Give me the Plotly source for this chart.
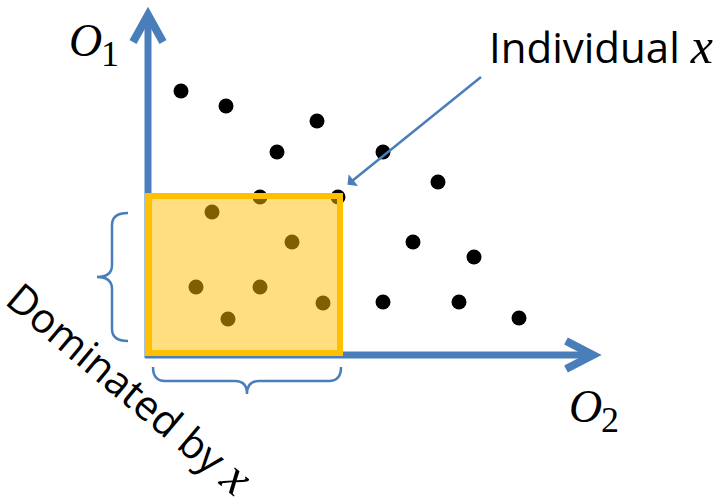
import plotly.graph_objects as go

# Data (pixel-space positions of the individuals on the O2 / O1 plane)
outer_x = [181, 226, 317, 277, 383, 438, 260, 338, 413, 474, 383, 459, 519]
outer_y = [91, 106, 121, 152, 152, 182, 197, 197, 242, 257, 302, 302, 318]
dom_x = [212, 292, 196, 260, 323, 228]
dom_y = [212, 242, 287, 287, 303, 319]

BLUE = "#4A7EBB"
ORANGE = "#FFC000"
SERIF = "Liberation Serif"
SANS = "Open Sans"

fig = go.Figure()
fig.add_trace(go.Scatter(x=outer_x + dom_x, y=outer_y + dom_y, mode="markers",
                         marker=dict(color="black", size=15, line=dict(width=0)),
                         hoverinfo="skip", showlegend=False))

shapes = []
# axes
shapes.append(dict(type="line", x0=148, y0=358, x1=148, y1=16, line=dict(color=BLUE, width=7), layer="below"))
shapes.append(dict(type="path", path="M133,42 L148,15 L163,42", line=dict(color=BLUE, width=8), layer="below"))
shapes.append(dict(type="line", x0=145, y0=355, x1=592, y1=355, line=dict(color=BLUE, width=7), layer="below"))
shapes.append(dict(type="path", path="M566,341 L593,355 L566,369", line=dict(color=BLUE, width=8), layer="below"))
# braces
shapes.append(dict(type="path",
                   path="M128,213 Q112,213 112,225 L112,265 Q112,277 97,277 Q112,277 112,289 L112,329 Q112,341 128,341",
                   line=dict(color=BLUE, width=2.5)))
shapes.append(dict(type="path",
                   path="M153,367 Q153,381 165,381 L235,381 Q247,381 247,394 Q247,381 259,381 L329,381 Q341,381 341,367",
                   line=dict(color=BLUE, width=2.5)))
# dominated region
shapes.append(dict(type="rect", x0=148, y0=196, x1=340, y1=353,
                   fillcolor="rgba(255,190,0,0.5)", line=dict(color=ORANGE, width=6), layer="above"))

fig.update_layout(shapes=shapes)

XI = "<span style='font-family:" + SERIF + ";font-size:50px'><i>x</i></span>"

ann = []
ann.append(dict(x=481, y=77, ax=346, ay=186, xref="x", yref="y", axref="x", ayref="y",
                text="", showarrow=True, arrowcolor=BLUE, arrowwidth=2.5, arrowhead=2,
                arrowsize=1.8, arrowside="start", standoff=0, startstandoff=0))
ann.append(dict(x=487, y=46, xref="x", yref="y", xanchor="left", yanchor="middle", showarrow=False,
                text="Individual " + XI,
                font=dict(family=SANS, size=42, color="black")))
ann.append(dict(x=130, y=387, xref="x", yref="y", xanchor="center", yanchor="middle", showarrow=False,
                textangle=40,
                text="Dominated by " + XI,
                font=dict(family=SANS, size=41, color="black")))
ann.append(dict(x=85, y=40, xref="x", yref="y", showarrow=False, text="<i>O</i>",
                font=dict(family=SERIF, size=46, color="black")))
ann.append(dict(x=110, y=54, xref="x", yref="y", showarrow=False, text="1",
                font=dict(family=SERIF, size=36, color="black")))
ann.append(dict(x=585, y=406, xref="x", yref="y", showarrow=False, text="<i>O</i>",
                font=dict(family=SERIF, size=46, color="black")))
ann.append(dict(x=610, y=420, xref="x", yref="y", showarrow=False, text="2",
                font=dict(family=SERIF, size=36, color="black")))
fig.update_layout(annotations=ann)

fig.update_layout(width=720, height=500, margin=dict(l=0, r=0, t=0, b=0),
                  paper_bgcolor="white", plot_bgcolor="white",
                  xaxis=dict(range=[0, 720], visible=False, fixedrange=True),
                  yaxis=dict(range=[500, 0], visible=False, fixedrange=True))
fig.write_html("out.html", post_script="document.body.style.margin='0';",
               config={"displayModeBar": False})
